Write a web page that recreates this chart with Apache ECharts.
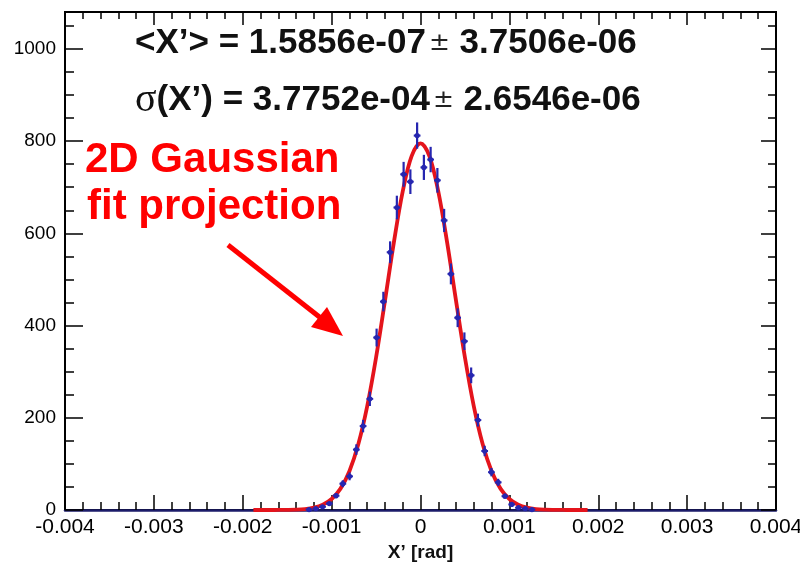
<!DOCTYPE html>
<html>
<head>
<meta charset="utf-8">
<script src="https://cdn.jsdelivr.net/npm/echarts@6/dist/echarts.min.js"></script>
<style>
html,body{margin:0;padding:0;background:#fff;}
#chart{width:800px;height:564px;}
</style>
</head>
<body>
<div id="chart"></div>
<script>
// ---- data ----
const binCenters = [-0.001254, -0.001178, -0.001102, -0.001026, -0.00095, -0.000874, -0.000798, -0.000722,
  -0.000646, -0.00057, -0.000494, -0.000418, -0.000342, -0.000266, -0.00019, -0.000114, -0.000038,
  0.000038, 0.000114, 0.00019, 0.000266, 0.000342, 0.000418, 0.000494, 0.00057, 0.000646, 0.000722,
  0.000798, 0.000874, 0.00095, 0.001026, 0.001102, 0.001178, 0.001254];
const counts = [1, 3, 7, 14, 31, 57, 73, 131,
  182, 241, 374, 452, 559, 656, 728, 712, 812,
  743, 760, 715, 628, 512, 417, 366, 292, 195, 128,
  82, 60, 30, 12, 5, 3, 1];
const binHalfWidth = 0.000038;

const fitX = [-0.00188, -0.0018, -0.0017, -0.0016, -0.0015, -0.0014, -0.0013, -0.0012, -0.0011, -0.001,
  -0.0009, -0.0008, -0.0007, -0.0006, -0.0005, -0.0004, -0.0003, -0.0002, -0.0001, 0,
  0.0001, 0.0002, 0.0003, 0.0004, 0.0005, 0.0006, 0.0007, 0.0008, 0.0009, 0.001,
  0.0011, 0.0012, 0.0013, 0.0014, 0.0015, 0.0016, 0.0017, 0.0018, 0.00188];
const fitY = [0, 0, 0, 0.1, 0.3, 0.8, 2.1, 5.1, 11.4, 23.8,
  46.4, 84.2, 142.5, 224.8, 330.7, 453.5, 579.8, 690.9, 767.6, 795,
  767.6, 690.9, 579.8, 453.5, 330.7, 224.8, 142.5, 84.2, 46.4, 23.8,
  11.4, 5.1, 2.1, 0.8, 0.3, 0.1, 0, 0, 0];

const xTickLabels = ['-0.004', '-0.003', '-0.002', '-0.001', '0', '0.001', '0.002', '0.003', '0.004'];
const yTickLabels = ['0', '200', '400', '600', '800', '1000'];

const meanText = ['<X’> = 1.5856e-07', '3.7506e-06'];
const sigmaText = ['(X’) = 3.7752e-04', '2.6546e-06'];
const noteLines = ['2D Gaussian', 'fit projection'];
const axisTitle = 'X’ [rad]';

// ---- styles ----
const BLUE = '#2626b0';
const RED = '#e4141c';
const NAVY = '#1c1c6a';

const pointData = binCenters.map((x, i) => [x, counts[i], Math.sqrt(counts[i])]);
const fitData = fitX.map((x, i) => [x, fitY[i]]);

const chart = echarts.init(document.getElementById('chart'), null, {renderer: 'canvas'});

const xFmt = v => {
  const k = Math.round(v * 1000) + 4;
  return (Math.abs(v * 1000 - Math.round(v * 1000)) < 1e-6) ? xTickLabels[k] : '';
};
const yFmt = v => {
  const k = Math.round(v / 200);
  return (Math.abs(v - k * 200) < 1e-6 && k >= 0 && k < yTickLabels.length) ? yTickLabels[k] : '';
};

const baseX = {
  type: 'value', min: -0.004, max: 0.004, interval: 0.001,
  splitLine: {show: false}
};
const baseY = {
  type: 'value', min: 0, max: 1080, splitLine: {show: false}
};

const option = {
  backgroundColor: '#fff',
  animation: false,
  grid: {left: 65, right: 24, top: 12, bottom: 54, containLabel: false, outerBoundsMode: 'none',
    show: true, borderColor: '#000', borderWidth: 2, backgroundColor: 'transparent'},
  xAxis: [
    Object.assign({}, baseX, {
      position: 'bottom',
      name: axisTitle, nameLocation: 'middle', nameGap: 32,
      nameTextStyle: {fontFamily: 'Liberation Sans, Arial, sans-serif', fontSize: 19, color: '#111', fontWeight: 'bold'},
      axisLine: {show: true, onZero: false, lineStyle: {color: NAVY, width: 2.5}},
      axisTick: {show: true, inside: true, length: 15, lineStyle: {color: '#000', width: 1.5}},
      minorTick: {show: true, splitNumber: 5, length: 8, lineStyle: {color: '#000', width: 1.5}},
      axisLabel: {formatter: xFmt, fontFamily: 'Liberation Sans, Arial, sans-serif', fontSize: 21, color: '#000', margin: 7}
    }),
    Object.assign({}, baseX, {
      position: 'top',
      axisLine: {show: true, onZero: false, lineStyle: {color: '#000', width: 2}},
      axisTick: {show: true, inside: true, length: 13, lineStyle: {color: '#000', width: 1.5}},
      minorTick: {show: true, splitNumber: 5, length: 7, lineStyle: {color: '#000', width: 1.5}},
      axisLabel: {show: false}
    })
  ],
  yAxis: [
    Object.assign({}, baseY, {
      position: 'left', interval: 200,
      axisLine: {show: true, onZero: false, lineStyle: {color: '#000', width: 2}},
      axisTick: {show: true, inside: true, length: 18, lineStyle: {color: '#000', width: 1.5}},
      axisLabel: {formatter: yFmt, fontFamily: 'Liberation Sans, Arial, sans-serif', fontSize: 19, color: '#000', margin: 9}
    }),
    Object.assign({}, baseY, {
      position: 'left', interval: 50,
      axisLine: {show: false, onZero: false},
      axisTick: {show: true, inside: true, length: 9, lineStyle: {color: '#000', width: 1.5}},
      axisLabel: {show: false}
    }),
    Object.assign({}, baseY, {
      position: 'right', interval: 200,
      axisLine: {show: true, onZero: false, lineStyle: {color: '#000', width: 2}},
      axisTick: {show: true, inside: true, length: 15, lineStyle: {color: '#000', width: 1.5}},
      axisLabel: {show: false}
    }),
    Object.assign({}, baseY, {
      position: 'right', interval: 50,
      axisLine: {show: false, onZero: false},
      axisTick: {show: true, inside: true, length: 8, lineStyle: {color: '#000', width: 1.5}},
      axisLabel: {show: false}
    })
  ],
  series: [
    {
      type: 'line', xAxisIndex: 0, yAxisIndex: 0,
      data: fitData, smooth: 0.35, showSymbol: false, z: 3,
      lineStyle: {color: RED, width: 3.8}
    },
    {
      type: 'custom', xAxisIndex: 0, yAxisIndex: 0, z: 4,
      data: pointData,
      renderItem: function (params, api) {
        const x = api.value(0), y = api.value(1), e = api.value(2);
        const c = api.coord([x, y]);
        const t = api.coord([x, y + e]);
        const b = api.coord([x, Math.max(0, y - e)]);
        const l = api.coord([x - binHalfWidth, y]);
        const r = api.coord([x + binHalfWidth, y]);
        return {
          type: 'group',
          children: [
            {type: 'line', shape: {x1: c[0], y1: t[1], x2: c[0], y2: b[1]}, style: {stroke: BLUE, lineWidth: 2.2}},
            {type: 'line', shape: {x1: l[0], y1: c[1], x2: r[0], y2: c[1]}, style: {stroke: BLUE, lineWidth: 2}},
            {type: 'circle', shape: {cx: c[0], cy: c[1], r: 2.6}, style: {fill: BLUE}}
          ]
        };
      }
    }
  ],
  graphic: [
    {
      type: 'text', left: 135, top: 26, z: 10,
      style: {
        text: '{b|' + meanText[0] + '}{s|±}{b| ' + meanText[1] + '}',
        rich: {
          b: {fontFamily: 'Liberation Sans, Arial, sans-serif', fontWeight: 'bold', fontSize: 35, fill: '#111'},
          s: {fontFamily: 'DejaVu Sans, sans-serif', fontWeight: 'normal', fontSize: 25, fill: '#222', padding: [0, 0, 0, 3]}
        }
      }
    },
    {
      type: 'text', left: 135, top: 80, z: 10,
      style: {
        text: '{g|σ}{b|' + sigmaText[0] + '}{s|±}{b| ' + sigmaText[1] + '}',
        rich: {
          g: {fontFamily: 'Liberation Serif, Times New Roman, serif', fontWeight: 'normal', fontSize: 40, fill: '#111'},
          b: {fontFamily: 'Liberation Sans, Arial, sans-serif', fontWeight: 'bold', fontSize: 35, fill: '#111'},
          s: {fontFamily: 'DejaVu Sans, sans-serif', fontWeight: 'normal', fontSize: 25, fill: '#222', padding: [0, 0, 0, 3]}
        }
      }
    },
    {
      type: 'text', left: 85, top: 139, z: 10,
      style: {text: noteLines[0], font: 'bold 42px "Liberation Sans", Arial, sans-serif', fill: '#ff0000'}
    },
    {
      type: 'text', left: 87, top: 186, z: 10,
      style: {text: noteLines[1], font: 'bold 42px "Liberation Sans", Arial, sans-serif', fill: '#ff0000'}
    },
    {
      type: 'line', z: 10,
      shape: {x1: 228, y1: 245, x2: 322, y2: 319},
      style: {stroke: '#ff0000', lineWidth: 5}
    },
    {
      type: 'polygon', z: 10,
      shape: {points: [[343, 336], [311, 327], [327, 307]]},
      style: {fill: '#ff0000'}
    }
  ]
};
chart.setOption(option);
</script>
</body>
</html>
